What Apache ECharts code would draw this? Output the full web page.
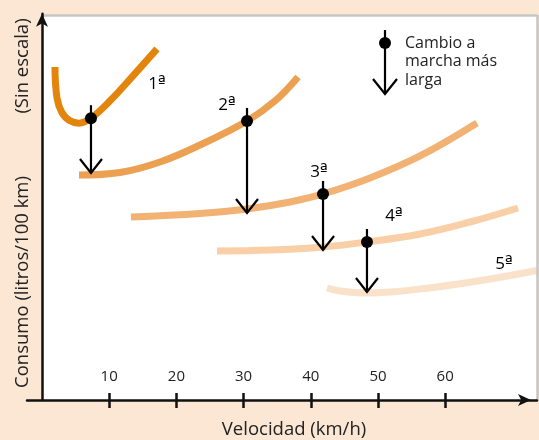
<!DOCTYPE html>
<html>
<head>
<meta charset="utf-8">
<script src="https://cdn.jsdelivr.net/npm/echarts@6/dist/echarts.min.js"></script>
<style>
html,body{margin:0;padding:0;background:#fbe7d4;}
#chart{width:539px;height:440px;}
</style>
</head>
<body>
<div id="chart"></div>
<script>
// Velocidad (km/h) ticks
const tickValues = [10, 20, 30, 40, 50, 60];
const gearNumbers = ['1', '2', '3', '4', '5'];
// Consumo (arbitrary scale, "sin escala")
const gear1 = [[1.93,86.5],[2.23,78.5],[2.98,74.6],[4.17,72.5],[5.51,71.9],[7.29,73.2],[10.12,77.7],[13.54,84.2],[17.11,91.2]];
const gear2 = [[5.51,58.44],[11.61,59.09],[17.56,61.82],[23.51,66.23],[30.51,72.47],[34.67,77.66],[38.10,83.90]];
const gear3 = [[13.24,47.53],[23.51,48.44],[30.51,49.61],[36.90,51.43],[41.82,53.51],[48.81,57.66],[56.25,63.38],[64.73,71.95]];
const gear4 = [[26.04,38.70],[33.93,38.96],[41.82,39.74],[48.36,41.04],[56.25,43.12],[63.69,46.23],[70.83,49.87]];
const gear5 = [[42.41,29.09],[44.35,28.31],[48.21,27.79],[58.78,29.35],[66.22,31.30],[73.66,33.64]];
// Gear shifts: [speed, consumption before, consumption after]
const shifts = [[7.29,73.2,58.96],[30.51,72.47,48.57],[41.82,53.51,38.96],[48.36,41.04,28.05]];

const X_MIN = -2.23, X_MAX = 73.66, Y_MAX = 100.3, PANEL_TOP = 100;
const FONT = '"Open Sans", "Noto Sans", sans-serif';
const TXT = '#222';
const gearColors = ['#e3840c', '#eca052', '#f1b273', '#f8cfa6', '#fae2ca'];
const gearData = [gear1, gear2, gear3, gear4, gear5];

const chart = echarts.init(document.getElementById('chart'));

const curveSeries = gearData.map((d, i) => ({
  type: 'line', name: gearNumbers[i] + 'ª', data: d, smooth: 0.4, showSymbol: false, silent: true,
  lineStyle: { color: gearColors[i], width: 7, cap: 'butt' }, z: 3
}));

function chevron(x, y, hw, h) {
  return [[x - hw, y - h], [x, y], [x + hw, y - h]];
}
const gearRich = {
  n: { fontSize: 17, fontFamily: FONT, color: TXT },
  o: { fontSize: 17, fontFamily: '"DejaVu Sans", sans-serif', color: TXT }
};
function gearLabel(i, x, y) {
  return { type: 'text', z: 100, x: x, y: y, style: { text: '{n|' + gearNumbers[i] + '}{o|ª}', rich: gearRich, align: 'center', verticalAlign: 'middle' } };
}

const option = {
  backgroundColor: '#fbe7d4',
  animation: false,
  grid: { left: 27, right: 2, top: 13.8, bottom: 40, show: false },
  xAxis: [{
    type: 'value', min: X_MIN, max: X_MAX, position: 'bottom', z: 10,
    axisLine: { show: true, lineStyle: { color: '#111', width: 2.5 }, symbol: ['none', 'arrow'], symbolSize: [9, 13], symbolOffset: [0, -6] },
    axisTick: { show: true, customValues: tickValues, length: 8, lineStyle: { color: '#111', width: 2.5 } },
    axisLabel: { show: true, customValues: tickValues, inside: true, margin: 16, color: TXT, fontSize: 15, fontFamily: FONT },
    splitLine: { show: false }
  }, {
    type: 'value', min: X_MIN, max: X_MAX, position: 'bottom', z: 10,
    axisLine: { show: false },
    axisTick: { show: true, inside: true, customValues: tickValues, length: 7, lineStyle: { color: '#111', width: 2.5 } },
    axisLabel: { show: false },
    splitLine: { show: false }
  }],
  yAxis: {
    type: 'value', min: 0, max: Y_MAX, z: 10,
    axisLine: { show: true, onZero: true, lineStyle: { color: '#111', width: 2.5 }, symbol: ['none', 'arrow'], symbolSize: [9, 13] },
    axisTick: { show: false }, axisLabel: { show: false }, splitLine: { show: false }
  },
  series: [{
    type: 'line', data: [], silent: true, z: 1,
    markArea: { silent: true, itemStyle: { color: '#ffffff' }, data: [[{ coord: [0, 0] }, { coord: [X_MAX, PANEL_TOP] }]] },
    markLine: { silent: true, symbol: 'none', label: { show: false },
      lineStyle: { color: '#c6c6c6', width: 2.5, type: 'solid' },
      data: [[{ coord: [0, PANEL_TOP] }, { coord: [X_MAX, PANEL_TOP] }], [{ coord: [X_MAX, 0] }, { coord: [X_MAX, PANEL_TOP] }]] }
  }].concat(curveSeries).concat([{
    type: 'custom', silent: true, z: 5, data: shifts,
    renderItem: function (params, api) {
      const pDot = api.coord([api.value(0), api.value(1)]);
      const pTip = api.coord([api.value(0), api.value(2)]);
      return { type: 'group', children: [
        { type: 'line', shape: { x1: pDot[0], y1: pDot[1] - 13, x2: pTip[0], y2: pTip[1] }, style: { stroke: '#000', lineWidth: 2.2 } },
        { type: 'polyline', shape: { points: chevron(pTip[0], pTip[1], 11, 14) }, style: { stroke: '#000', lineWidth: 2.2, fill: null } },
        { type: 'circle', shape: { cx: pDot[0], cy: pDot[1], r: 6 }, style: { fill: '#000' } }
      ]};
    }
  }]),
  graphic: { elements: [
    { type: 'text', z: 100, x: 294, y: 430, style: { text: 'Velocidad (km/h)', font: '18.5px ' + FONT, fill: TXT, align: 'center', verticalAlign: 'middle' } },
    { type: 'text', z: 100, x: 23, y: 282, rotation: Math.PI / 2, style: { text: 'Consumo (litros/100 km)', font: '18.5px ' + FONT, fill: TXT, align: 'center', verticalAlign: 'middle' } },
    { type: 'text', z: 100, x: 23, y: 66, rotation: Math.PI / 2, style: { text: '(Sin escala)', font: '18.5px ' + FONT, fill: TXT, align: 'center', verticalAlign: 'middle' } },
    gearLabel(0, 157, 84),
    gearLabel(1, 227, 105),
    gearLabel(2, 319, 172),
    gearLabel(3, 394, 216),
    gearLabel(4, 504, 264),
    { type: 'line', z: 100, shape: { x1: 385, y1: 30, x2: 385, y2: 94 }, style: { stroke: '#000', lineWidth: 2.2 } },
    { type: 'polyline', z: 100, shape: { points: chevron(385, 94, 12, 15) }, style: { stroke: '#000', lineWidth: 2.2, fill: null } },
    { type: 'circle', z: 100, shape: { cx: 385, cy: 43, r: 6 }, style: { fill: '#000' } },
    { type: 'text', z: 100, x: 405, y: 34, style: { text: 'Cambio a\nmarcha más\nlarga', font: '16px ' + FONT, fill: TXT, lineHeight: 18.5, align: 'left', verticalAlign: 'top' } }
  ]}
};
chart.setOption(option);
</script>
</body>
</html>
